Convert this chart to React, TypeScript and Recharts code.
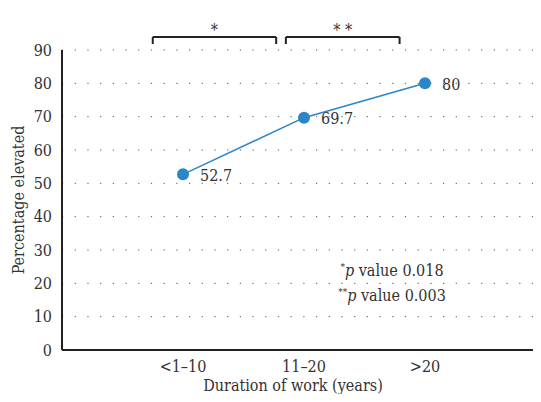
import React from "react";
import {
  LineChart,
  Line,
  XAxis,
  YAxis,
  CartesianGrid,
  ReferenceLine,
  LabelList,
  Customized,
} from "recharts";

const categories = ["<1\u201310", "11\u201320", ">20"];
const elevated = [52.7, 69.7, 80];
const yTicks = [0, 10, 20, 30, 40, 50, 60, 70, 80, 90];
// significance brackets: [from x, to x, stars]
const brackets: [number, number, string][] = [
  [0.75, 1.77, "*"],
  [1.85, 2.79, "* *"],
];
const pNotes = [
  ["*", "0.018"],
  ["**", "0.003"],
];

const FONT = "'DejaVu Serif Condensed', 'DejaVu Serif'";
const FS = 16;
const BLUE = "#2a86c8";
const INK = "#222";
const TXT = "#333";
const fontCss = { fontFamily: FONT, fontStretch: "condensed" };

const data = categories.map((c, i) => ({ x: i + 1, name: c, value: elevated[i] }));

const BRACKET_TOP = 93.9;
const BRACKET_FOOT = 91.8;

function PointLabel(props: any) {
  const { x, y, value } = props;
  return (
    <text x={x + 17} y={y + 1} dominantBaseline="central" fontSize={FS} fill={TXT} style={fontCss}>
      {value}
    </text>
  );
}

function YTitle() {
  return (
    <text
      x={18}
      y={200}
      transform="rotate(-90 18 200)"
      textAnchor="middle"
      dominantBaseline="central"
      fontSize={FS}
      fill={TXT}
      style={fontCss}
    >
      Percentage elevated
    </text>
  );
}

function XTitle() {
  return (
    <text x={293} y={391} textAnchor="middle" fontSize={FS} fill={TXT} style={fontCss}>
      Duration of work (years)
    </text>
  );
}

function Notes() {
  return (
    <g style={fontCss} fontSize={FS}>
      {pNotes.map(([stars, p], i) => (
        <text key={i} x={392} y={276 + i * 25} textAnchor="middle" fill={TXT}>
          <tspan fontSize={10} dy={-6} fill={TXT}>{stars}</tspan>
          <tspan fontStyle="italic" dy={6} fill={TXT}>p</tspan>
          <tspan fill={TXT}> value {p}</tspan>
        </text>
      ))}
    </g>
  );
}

const tickStyle = { fontSize: FS, fill: TXT, style: fontCss };

export default function App() {
  return (
    <div style={{ margin: -8, width: 541, height: 402, background: "#fff" }}>
      <LineChart
        width={541}
        height={402}
        data={data}
        margin={{ top: 50, right: -5, bottom: 0, left: 0 }}
      >
        <CartesianGrid vertical={false} stroke="#555" strokeDasharray="1.2 11.5" />
        <XAxis
          dataKey="x"
          type="number"
          domain={[0, 4]}
          ticks={[1, 2, 3]}
          tickFormatter={(v) => categories[v - 1]}
          height={52}
          tickLine={false}
          tickMargin={5}
          stroke={INK}
          strokeWidth={2}
          tick={tickStyle}
          label={<XTitle />}
        />
        <YAxis
          domain={[0, 90]}
          ticks={yTicks}
          width={62}
          tickLine={false}
          tickMargin={4}
          stroke={INK}
          strokeWidth={2}
          tick={tickStyle}
          label={<YTitle />}
        />
        {brackets.map(([a, b, s], i) => (
          <ReferenceLine
            key={"h" + i}
            segment={[
              { x: a, y: BRACKET_TOP },
              { x: b, y: BRACKET_TOP },
            ]}
            ifOverflow="visible"
            stroke={INK}
            strokeWidth={2}
            label={{ value: s, position: "top", offset: 1, fontSize: FS, fill: TXT, style: fontCss }}
          />
        ))}
        {brackets.flatMap(([a, b], i) =>
          [a, b].map((xv, j) => (
            <ReferenceLine
              key={"v" + i + j}
              segment={[
                { x: xv, y: BRACKET_TOP },
                { x: xv, y: BRACKET_FOOT },
              ]}
              ifOverflow="visible"
              stroke={INK}
              strokeWidth={2}
            />
          ))
        )}
        <Line
          dataKey="value"
          stroke={BLUE}
          strokeWidth={1.5}
          dot={{ r: 6, fill: BLUE, stroke: BLUE, strokeWidth: 0 }}
          isAnimationActive={false}
        >
          <LabelList dataKey="value" content={<PointLabel />} />
        </Line>
        <Customized component={<Notes />} />
      </LineChart>
    </div>
  );
}
